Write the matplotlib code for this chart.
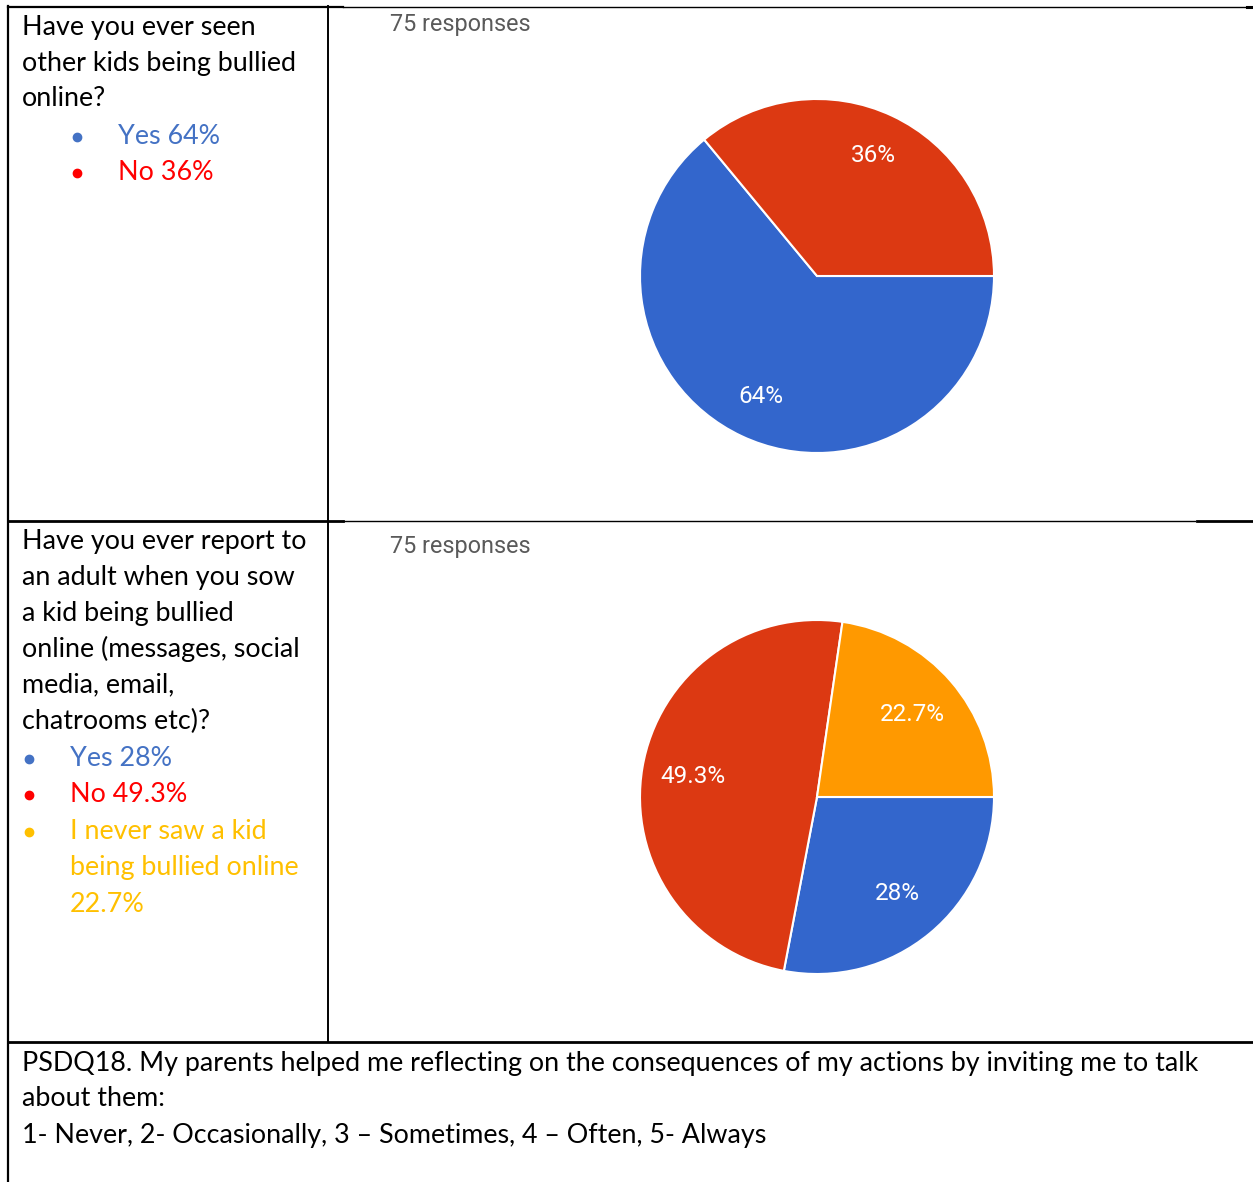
import matplotlib
matplotlib.use("Agg")
import matplotlib.pyplot as plt

W, H = 1253, 1182
DPI = 100

# survey answers
q1_text = ["Have you ever seen", "other kids being bullied", "online?"]
q1_labels = ["Yes", "No"]
q1_values = [64, 36]

q2_text = ["Have you ever report to", "an adult when you sow", "a kid being bullied",
           "online (messages, social", "media, email,", "chatrooms etc)?"]
q2_labels = ["Yes", "No", "I never saw a kid\nbeing bullied online"]
q2_values = [28, 49.3, 22.7]

n_responses = 75

footer = ["PSDQ18. My parents helped me reflecting on the consequences of my actions by inviting me to talk",
          "about them:",
          "1- Never, 2- Occasionally, 3 \u2013 Sometimes, 4 \u2013 Often, 5- Always"]

pie_colors = ["#3366cc", "#dc3912", "#ff9900"]
legend_colors = ["#4472c4", "#ff0000", "#ffc000"]

BODY = "Lato"
BODY_SIZE = 19.4
LINE = 36


def pct(v):
    return f"{v:.1f}".rstrip("0").rstrip(".") + "%"


fig = plt.figure(figsize=(W / DPI, H / DPI), dpi=DPI)
bg = fig.add_axes([0, 0, 1, 1])
bg.set_xlim(0, W)
bg.set_ylim(H, 0)
bg.axis("off")

# table grid
k = "black"
bg.plot([8, 343], [7, 7], color=k, lw=1.6)
bg.plot([343, 1253], [7, 7], color=k, lw=1.0)
bg.plot([1247, 1253], [7, 7], color=k, lw=2.2)
bg.plot([8, 8], [6, H], color=k, lw=1.6)
bg.plot([328, 328], [6, 1042], color=k, lw=1.4)
bg.plot([8, 343], [521, 521], color=k, lw=2.0)
bg.plot([343, 1195], [521, 521], color=k, lw=1.0)
bg.plot([1197, 1253], [521, 521], color=k, lw=2.0)
bg.plot([8, 1253], [1042, 1042], color=k, lw=2.0)


def question(lines, labels, values, y0, bullet_x, text_x):
    y = y0
    for ln in lines:
        bg.text(22, y, ln, fontsize=BODY_SIZE, family=BODY, va="center", ha="left")
        y += LINE
    y += 1.5
    for lab, v, c in zip(labels, values, legend_colors):
        bg.plot(bullet_x, y, "o", color=c, ms=6)
        parts = (f"{lab} {pct(v)}" if "\n" not in lab else f"{lab}\n{pct(v)}").split("\n")
        for p in parts:
            bg.text(text_x, y, p, fontsize=BODY_SIZE, family=BODY, va="center",
                    ha="left", color=c)
            y += LINE + 0.5


question(q1_text, q1_labels, q1_values, 27, 77, 118)
question(q2_text, q2_labels, q2_values, 541, 29, 70)

for i, ln in enumerate(footer):
    bg.text(22, 1063 + i * LINE, ln, fontsize=BODY_SIZE, family=BODY, va="center", ha="left")

for y in (24, 546):
    bg.text(390, y + 1, f"{n_responses} responses", fontsize=16.8, family="Roboto",
            color="#5a5a5a", va="center", ha="left")


def pie(cx, cy, r, values, dist):
    ax = fig.add_axes([(cx - r) / W, 1 - (cy + r) / H, 2 * r / W, 2 * r / H])
    ax.pie(values, colors=pie_colors[:len(values)], startangle=0, counterclock=False,
           autopct=pct, pctdistance=dist,
           wedgeprops=dict(edgecolor="white", linewidth=1.5),
           textprops=dict(color="white", fontsize=17.5, family="Roboto"))
    ax.set_xlim(-1, 1)
    ax.set_ylim(-1, 1)
    ax.set_aspect("equal")
    ax.axis("off")


pie(817, 276, 177, q1_values, 0.75)
pie(817, 797, 177, q2_values, 0.71)

fig.savefig("out.png", dpi=DPI)
